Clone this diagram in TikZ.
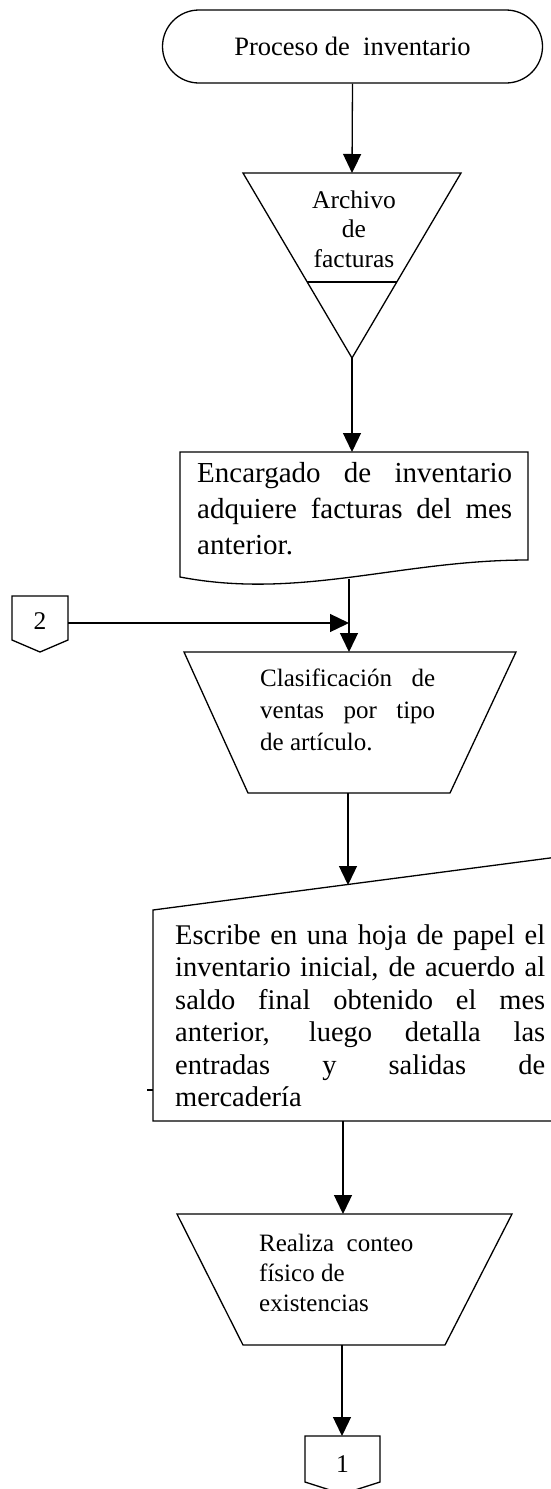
\documentclass[tikz,border=0pt]{standalone}
\usepackage{fontspec}
\setmainfont{Liberation Serif}
\usetikzlibrary{arrows.meta}
\tikzset{
  box/.style={line width=1.3pt, line join=miter},
  arr/.style={line width=1.3pt, -{Triangle[length=19pt,width=18pt]}},
  txt/.style={inner sep=0pt, anchor=base west},
  ctxt/.style={inner sep=0pt, anchor=base},
}
\newcommand\jl[1]{\noindent\makebox[\hsize][s]{#1}\par}
\begin{document}
\begin{tikzpicture}[x=1pt,y=-1pt]
\useasboundingbox (0,0) rectangle (550,1489);

% terminal
\node[box, draw, rounded corners=36.5pt, minimum width=380pt, minimum height=73pt,
      inner sep=0pt, font=\fontsize{26.5}{30}\selectfont] (term) at (352.5,46.5) {Proceso de\ \ inventario};

% archive triangle
\draw[box] (243,173) -- (461,173) -- (352,358) -- cycle;
\draw[box] (307,282) -- (397,282);
\coordinate (archtop) at (352,173);
\coordinate (archbot) at (352,358);
\node[ctxt] (archtxt) at (354,208) {\vtop{\hsize=130pt\fontsize{25.5}{29.5}\selectfont\centering Archivo\\de\\facturas\par}};

% document
\draw[box] (180,577) -- (180,452) -- (528,452) -- (528,560)
  .. controls (400,560) and (300,600) .. (180,577) -- cycle;
\coordinate (doctop) at (352,452);
\coordinate (docbot) at (349,579);
\node[txt] (doctxt) at (197,482) {\vtop{\hsize=315pt\fontsize{29}{36}\selectfont
  \jl{Encargado de inventario}\jl{adquiere facturas del mes}\noindent anterior.\par}};

% off-page connector 2
\draw[box] (12,596) -- (68,596) -- (68,640) -- (40,652) -- (12,640) -- cycle;
\node[font=\fontsize{25.5}{29}\selectfont, inner sep=0pt] (c2) at (40,621) {2};
\coordinate (c2r) at (68,623);
\coordinate (join) at (349,623);

% manual operation 1
\draw[box] (184,652) -- (516,652) -- (450,793) -- (248,793) -- cycle;
\coordinate (tra) at (349,652);
\coordinate (trab) at (348,793);
\node[txt] (clasif) at (260,686) {\vtop{\hsize=175pt\fontsize{25}{32}\selectfont
  \jl{Clasificación de}\jl{ventas por tipo}\noindent de artículo.\par}};

% manual input
\draw[box] (556,857.2) -- (153,910) -- (153,1121) -- (556,1121);
\draw[box] (147,1090) -- (153,1090);
\coordinate (mitop) at (348,885);
\coordinate (mibot) at (343,1121);
\node[txt] (escribe) at (175,944) {\vtop{\hsize=370pt\fontsize{28.5}{32.5}\selectfont
  \jl{Escribe en una hoja de papel el}\jl{inventario inicial, de acuerdo al}%
  \jl{saldo final obtenido el mes}\jl{anterior, luego detalla las}%
  \jl{entradas y salidas de}\noindent mercadería\par}};

% manual operation 2
\draw[box] (177,1214) -- (512,1214) -- (445,1345) -- (243,1345) -- cycle;
\coordinate (trb) at (343,1214);
\coordinate (trbb) at (342,1345);
\node[txt] (realiza) at (259,1251) {\vtop{\hsize=200pt\fontsize{25}{30}\selectfont
  \noindent Realiza\ \ conteo\par\noindent físico de\par\noindent existencias\par}};

% off-page connector 1
\draw[box] (305,1436) -- (380,1436) -- (380,1482) -- (342.5,1494) -- (305,1482) -- cycle;
\coordinate (c1top) at (342,1436);
\node[font=\fontsize{25.5}{29}\selectfont, inner sep=0pt] (c1) at (342.5,1464) {1};

% connectors
\draw[arr] (term.south) -- (archtop);
\draw[arr] (archbot) -- (doctop);
\draw[arr] (docbot) -- (tra);
\draw[arr] (c2r) -- (join);
\draw[arr] (trab) -- (mitop);
\draw[arr] (mibot) -- (trb);
\draw[arr] (trbb) -- (c1top);
\end{tikzpicture}
\end{document}
